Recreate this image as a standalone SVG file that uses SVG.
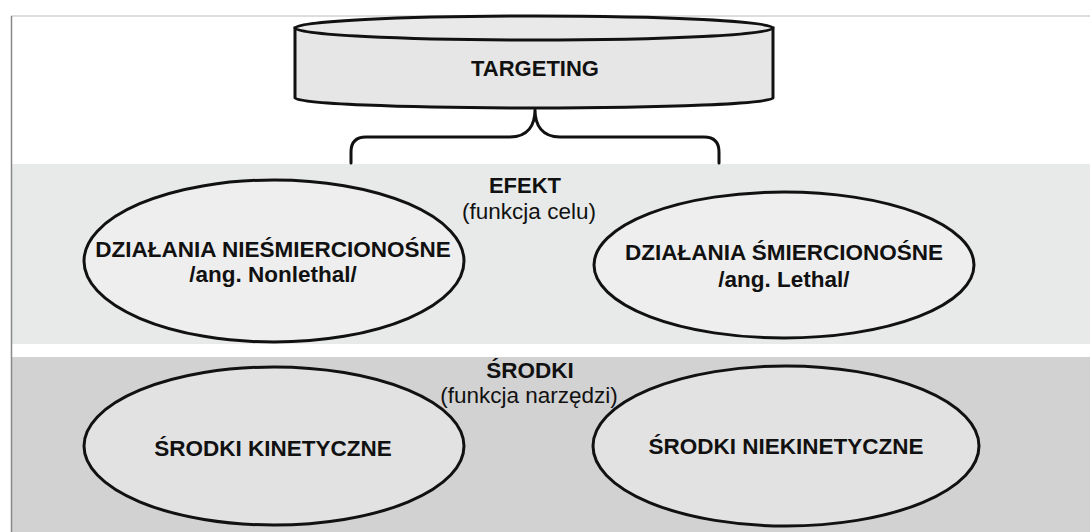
<svg xmlns="http://www.w3.org/2000/svg" width="1090" height="532" viewBox="0 0 1090 532">
<style>
.lbl{font-family:"Liberation Sans",Arial,sans-serif;font-size:22.5px;font-weight:bold;fill:#111;text-anchor:middle}
.sub{font-family:"Liberation Sans",Arial,sans-serif;font-size:22.5px;fill:#111;text-anchor:middle}
.node{stroke:#111;stroke-width:3}
.ell1{fill:#eeeeee}
.ell2{fill:#e2e2e2}
.conn{fill:none;stroke:#111;stroke-width:3;stroke-linejoin:round;stroke-linecap:round}
</style>
<rect x="0" y="0" width="1090" height="532" fill="#ffffff"/>
<g id="background">
  <rect x="11" y="164" width="1079" height="180" fill="#e8eaea"/>
  <rect x="11" y="357" width="1079" height="175" fill="#d2d2d2"/>
  <line x1="11" y1="16" x2="1090" y2="16" stroke="#bbbbbb" stroke-width="1"/>
  <line x1="11.5" y1="16" x2="11.5" y2="532" stroke="#888888" stroke-width="1.5"/>
</g>
<g id="targeting">
  <path class="node" d="M295,28 L295,98 A239,10 0 0 0 773,98 L773,28 Z" fill="#e6e6e6"/>
  <ellipse class="node" cx="534" cy="28" rx="239" ry="12" fill="#e9e9e9"/>
  <text class="lbl" x="535" y="76" style="font-size:22px">TARGETING</text>
</g>
<g id="connectors">
  <path class="conn" d="M351,163 L351,152 Q351,137 366,137 L510,137 C528,137 535,125 535,110 C535,125 542,137 560,137 L704,137 Q719,137 719,152 L719,163"/>
</g>
<g id="efekt-label">
  <text class="lbl" x="525" y="193" style="font-size:22px">EFEKT</text>
  <text class="sub" x="529" y="219">(funkcja celu)</text>
</g>
<g id="nonlethal">
  <ellipse class="node ell1" cx="274" cy="261" rx="190" ry="81"/>
  <text class="lbl" x="273" y="257">DZIAŁANIA NIEŚMIERCIONOŚNE</text>
  <text class="lbl" x="273" y="282">/ang. Nonlethal/</text>
</g>
<g id="lethal">
  <ellipse class="node ell1" cx="784" cy="265" rx="190" ry="73"/>
  <text class="lbl" x="784" y="260">DZIAŁANIA ŚMIERCIONOŚNE</text>
  <text class="lbl" x="784" y="287">/ang. Lethal/</text>
</g>
<g id="srodki-label">
  <text class="lbl" x="530" y="378">ŚRODKI</text>
  <text class="sub" x="529" y="403">(funkcja narzędzi)</text>
</g>
<g id="kinetic">
  <ellipse class="node ell2" cx="274" cy="446" rx="190" ry="79"/>
  <text class="lbl" x="273" y="456">ŚRODKI KINETYCZNE</text>
</g>
<g id="nonkinetic">
  <ellipse class="node ell2" cx="786" cy="446" rx="193" ry="80"/>
  <text class="lbl" x="786" y="454">ŚRODKI NIEKINETYCZNE</text>
</g>
</svg>
